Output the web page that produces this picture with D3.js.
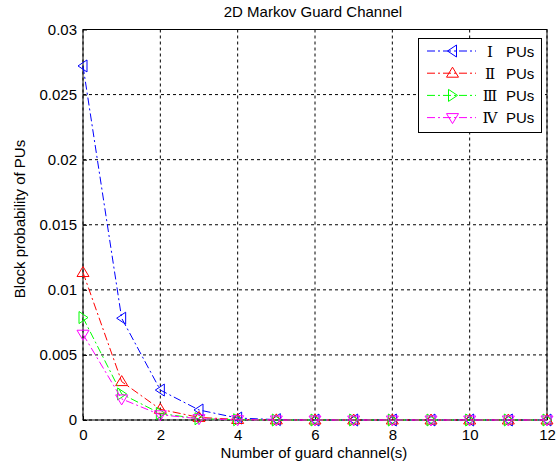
<!DOCTYPE html>
<html>
<head>
<meta charset="utf-8">
<script src="https://cdn.jsdelivr.net/npm/d3@7"></script>
<style>
  body { margin: 0; background: #fff; }
  svg { display: block; font-family: 'Liberation Sans', Arial, sans-serif; }
</style>
</head>
<body>
<script>
const channels = [0, 1, 2, 3, 4, 5, 6, 7, 8, 9, 10, 11, 12];
const puI   = [0.0272, 0.00782, 0.0023, 0.00077, 0.00015, 0.00003, 0, 0, 0, 0, 0, 0, 0];
const puII  = [0.01133, 0.00295, 0.00082, 0.0002, 0.00004, 0.00001, 0, 0, 0, 0, 0, 0, 0];
const puIII = [0.00787, 0.002, 0.0005, 0.0001, 0.00002, 0, 0, 0, 0, 0, 0, 0, 0];
const puIV  = [0.00659, 0.00162, 0.0004, 0.0001, 0.00002, 0, 0, 0, 0, 0, 0, 0, 0];
const seriesNames = ['Ⅰ', 'Ⅱ', 'Ⅲ', 'Ⅳ'];
const xTicks = [0, 2, 4, 6, 8, 10, 12];
const yTicks = [0, 0.005, 0.01, 0.015, 0.02, 0.025, 0.03];

const w = 557, h = 468;
const padLeft = 83, padRight = 547, padTop = 29.5, padBottom = 420;

const series = [
  { name: seriesNames[0], values: puI,   color: '#0000ff', marker: 'left' },
  { name: seriesNames[1], values: puII,  color: '#ff0000', marker: 'up' },
  { name: seriesNames[2], values: puIII, color: '#00ff00', marker: 'right' },
  { name: seriesNames[3], values: puIV,  color: '#ff00ff', marker: 'down' }
];

const xScale = d3.scaleLinear().domain([0, 12]).range([padLeft, padRight]);
const yScale = d3.scaleLinear().domain([0, 0.03]).range([padBottom, padTop]);

const svg = d3.select('body').append('svg').attr('width', w).attr('height', h);

// triangle path for each marker direction
function tri(dir) {
  const pts = {
    up:    [[0, -6], [6, 4], [-6, 4]],
    down:  [[0, 6], [6, -4], [-6, -4]],
    left:  [[-5, 0], [4, -6], [4, 6]],
    right: [[5, 0], [-4, -6], [-4, 6]]
  }[dir];
  return 'M' + pts.map(p => p.join(',')).join('L') + 'Z';
}

// grid
svg.append('g').selectAll('line').data(xTicks).enter().append('line')
  .attr('x1', d => xScale(d)).attr('x2', d => xScale(d))
  .attr('y1', padTop).attr('y2', padBottom)
  .attr('stroke', '#000').attr('stroke-dasharray', '3,3');
svg.append('g').selectAll('line').data(yTicks).enter().append('line')
  .attr('x1', padLeft).attr('x2', padRight)
  .attr('y1', d => yScale(d)).attr('y2', d => yScale(d))
  .attr('stroke', '#000').attr('stroke-dasharray', '3,3');

// axes box
svg.append('rect').attr('x', padLeft).attr('y', padTop).attr('width', padRight - padLeft).attr('height', padBottom - padTop)
  .attr('fill', 'none').attr('stroke', '#000');

const xAxis = d3.axisBottom(xScale).tickValues(xTicks).tickSize(-4).tickPadding(9).tickSizeOuter(0);
const yAxis = d3.axisLeft(yScale).tickValues(yTicks).tickSize(-4).tickPadding(9).tickSizeOuter(0)
  .tickFormat(d => d === 0 ? '0' : String(+d.toFixed(3)));

svg.append('g').attr('transform', 'translate(0,' + padBottom + ')').call(xAxis)
  .call(g => g.select('.domain').remove())
  .call(g => g.selectAll('text').style('font-size', '15px').attr('fill', '#000'));
svg.append('g').attr('transform', 'translate(' + padLeft + ',0)').call(yAxis)
  .call(g => g.select('.domain').remove())
  .call(g => g.selectAll('text').style('font-size', '15px').attr('fill', '#000').attr('x', -6));

// series
const line = d3.line().x((d, i) => xScale(channels[i])).y(d => yScale(d));
series.forEach(s => {
  const g = svg.append('g');
  g.append('path').datum(s.values).attr('d', line)
    .attr('fill', 'none').attr('stroke', s.color).attr('stroke-width', 1)
    .attr('stroke-dasharray', '8,3,2,3');
  g.selectAll('path.mk').data(s.values).enter().append('path').attr('class', 'mk')
    .attr('d', tri(s.marker))
    .attr('transform', (d, i) => 'translate(' + xScale(channels[i]) + ',' + yScale(d) + ')')
    .attr('fill', 'none').attr('stroke', s.color).attr('stroke-width', 1);
});

// titles
svg.append('text').text('2D Markov Guard Channel').attr('x', 313).attr('y', 17)
  .attr('text-anchor', 'middle').style('font-size', '15px');
svg.append('text').text('Number of guard channel(s)').attr('x', 314).attr('y', 458)
  .attr('text-anchor', 'middle').style('font-size', '15px');
svg.append('text').text('Block probability of PUs')
  .attr('transform', 'translate(25,219)rotate(-90)')
  .attr('text-anchor', 'middle').style('font-size', '15px');

// legend
const legend = svg.append('g');
legend.append('rect').attr('x', 418.5).attr('y', 38.5).attr('width', 123).attr('height', 94)
  .attr('fill', '#fff').attr('stroke', '#000');
series.forEach((s, i) => {
  const y = 51 + i * 22.2;
  legend.append('line').attr('x1', 427).attr('x2', 476).attr('y1', y).attr('y2', y)
    .attr('stroke', s.color).attr('stroke-dasharray', '8,3,2,3');
  legend.append('path').attr('d', tri(s.marker)).attr('transform', 'translate(452.5,' + y + ')')
    .attr('fill', 'none').attr('stroke', s.color);
  legend.append('text').text(s.name).attr('x', 490).attr('y', y + 5.5)
    .attr('text-anchor', 'middle')
    .style('font-family', "'DejaVu Serif', 'Noto Sans CJK SC', serif").style('font-size', '15px');
  legend.append('text').text('PUs').attr('x', 506).attr('y', y + 5.5).style('font-size', '15px');
});
</script>
</body>
</html>
